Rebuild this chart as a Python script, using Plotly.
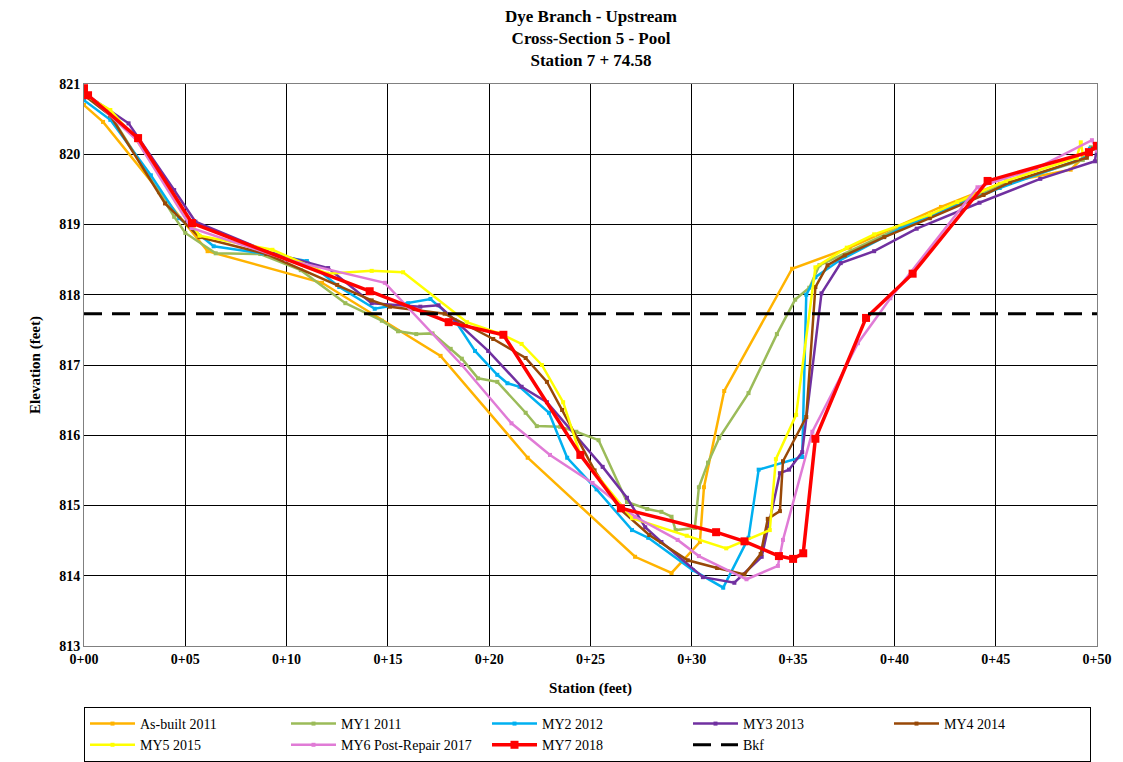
import plotly.graph_objects as go

# ---------------- data ----------------
asbuilt_x = [0, 0.94, 6.1, 11.75, 17.6, 21.9, 27.2, 29.0, 30.4, 30.6, 31.6, 34.95, 37.8, 42.3, 45.2, 48.7, 49.3]
asbuilt_y = [820.70, 820.46, 818.62, 818.17, 817.13, 815.68, 814.27, 814.04, 814.48, 815.26, 816.63, 818.37, 818.67, 819.25, 819.58, 819.78, 819.95]

my1_x = [0, 1.3, 3.7, 4.45, 5.0, 6.5, 8.7, 10.7, 12.9, 14.7, 15.5, 16.4, 17.2, 18.1, 18.65, 19.45, 20.4, 21.8, 22.35, 23.5, 24.3, 25.4, 26.8, 27.8, 28.5, 29.0, 29.2, 30.15, 30.35, 30.8, 31.35, 32.8, 34.2, 35.1, 35.8, 36.3, 40.3, 45.2, 49.3, 49.7]
my1_y = [820.88, 820.56, 819.46, 819.11, 818.88, 818.59, 818.58, 818.35, 817.88, 817.63, 817.48, 817.44, 817.45, 817.23, 817.09, 816.81, 816.76, 816.32, 816.13, 816.12, 816.05, 815.93, 815.05, 814.95, 814.91, 814.84, 814.65, 814.68, 815.26, 815.61, 815.96, 816.60, 817.44, 817.93, 818.10, 818.42, 818.96, 819.55, 819.92, 820.10]

my2_x = [0, 1.3, 3.3, 4.7, 6.4, 8.8, 11.0, 12.6, 14.35, 16.0, 17.1, 18.3, 19.3, 20.4, 20.9, 21.5, 22.95, 23.85, 25.3, 27.05, 27.85, 30.05, 31.55, 32.8, 33.3, 35.45, 35.65, 36.1, 37.3, 40.3, 45.2, 49.4, 49.65]
my2_y = [820.77, 820.49, 819.70, 819.09, 818.69, 818.59, 818.48, 818.11, 817.80, 817.88, 817.94, 817.64, 817.20, 816.86, 816.74, 816.69, 816.32, 815.68, 815.23, 814.65, 814.54, 814.08, 813.83, 814.54, 815.51, 815.69, 818.00, 818.25, 818.49, 818.94, 819.52, 819.95, 820.08]

my3_x = [0, 2.2, 4.45, 5.5, 9.0, 12.05, 14.2, 16.6, 17.5, 19.95, 21.6, 22.85, 25.6, 26.8, 27.7, 28.5, 30.55, 32.1, 33.45, 34.35, 34.8, 35.45, 36.4, 37.35, 39.0, 41.1, 44.2, 47.2, 49.9, 50.0]
my3_y = [820.87, 820.44, 819.49, 819.04, 818.62, 818.38, 817.88, 817.83, 817.85, 817.20, 816.69, 816.47, 815.55, 815.11, 814.69, 814.48, 813.98, 813.90, 814.27, 815.46, 815.51, 815.76, 818.02, 818.45, 818.62, 818.94, 819.31, 819.65, 819.90, 820.13]

my4_x = [0, 1.3, 4.0, 5.7, 9.0, 12.5, 14.2, 15.1, 17.8, 20.2, 21.8, 22.85, 23.6, 25.2, 26.45, 27.9, 29.8, 31.25, 32.6, 33.4, 33.75, 34.35, 34.5, 35.65, 36.1, 36.7, 37.55, 39.5, 41.75, 44.4, 45.7, 49.5, 49.8]
my4_y = [820.84, 820.55, 819.30, 818.82, 818.58, 818.14, 817.92, 817.83, 817.73, 817.37, 817.10, 816.76, 816.36, 815.50, 814.95, 814.58, 814.22, 814.11, 814.02, 814.31, 814.81, 814.92, 815.63, 816.26, 818.11, 818.42, 818.56, 818.82, 819.09, 819.42, 819.60, 819.95, 820.08]

my5_x = [0, 1.3, 2.6, 5.7, 9.3, 12.0, 14.2, 15.75, 18.9, 20.5, 21.6, 22.6, 23.65, 24.5, 27.05, 29.75, 31.7, 33.85, 34.15, 35.15, 36.1, 37.65, 39.0, 41.75, 43.1, 45.5, 49.0, 49.2, 49.3]
my5_y = [820.85, 820.63, 820.20, 818.84, 818.64, 818.30, 818.34, 818.32, 817.61, 817.45, 817.30, 817.00, 816.47, 815.72, 814.82, 814.57, 814.39, 814.65, 815.66, 816.29, 818.39, 818.67, 818.86, 819.14, 819.32, 819.62, 819.95, 820.17, 820.00]

my6_x = [0, 2.6, 5.3, 10.0, 14.85, 18.65, 21.1, 23.0, 25.1, 27.2, 29.3, 30.35, 32.7, 34.25, 34.5, 35.95, 38.2, 39.8, 44.1, 47.0, 49.75, 50.0]
my6_y = [820.90, 820.20, 818.95, 818.50, 818.17, 817.00, 816.17, 815.72, 815.32, 814.84, 814.51, 814.28, 813.95, 814.14, 814.51, 816.05, 817.31, 817.95, 819.53, 819.80, 820.20, 820.05]

my7_x = [0, 0.2, 2.67, 5.33, 14.1, 18.0, 20.7, 24.5, 26.5, 31.2, 32.6, 34.3, 35.0, 35.5, 36.1, 38.6, 40.9, 44.6, 49.6, 50.0]
my7_y = [820.94, 820.84, 820.23, 819.02, 818.05, 817.61, 817.43, 815.72, 814.96, 814.62, 814.49, 814.28, 814.24, 814.32, 815.95, 817.67, 818.30, 819.62, 820.03, 820.12]

bkf_x = [0, 50]
bkf_y = [817.73, 817.73]

x_ticks = [0, 5, 10, 15, 20, 25, 30, 35, 40, 45, 50]
x_tick_text = ["0+00", "0+05", "0+10", "0+15", "0+20", "0+25", "0+30", "0+35", "0+40", "0+45", "0+50"]
y_ticks = [813, 814, 815, 816, 817, 818, 819, 820, 821]

title_lines = ["Dye Branch - Upstream", "Cross-Section 5 - Pool", "Station 7 + 74.58"]

series = [
    ("As-built 2011", asbuilt_x, asbuilt_y, "#FFB300"),
    ("MY1 2011", my1_x, my1_y, "#9BBB59"),
    ("MY2 2012", my2_x, my2_y, "#00B0F0"),
    ("MY3 2013", my3_x, my3_y, "#7030A0"),
    ("MY4 2014", my4_x, my4_y, "#984807"),
    ("MY5 2015", my5_x, my5_y, "#FFFF00"),
    ("MY6 Post-Repair 2017", my6_x, my6_y, "#E07BD6"),
]

FONT = "Liberation Serif"

fig = go.Figure()
for name, xs, ys, col in series:
    fig.add_trace(go.Scatter(
        x=xs, y=ys, name=name, mode="lines+markers",
        line=dict(color=col, width=2.5),
        marker=dict(symbol="square", size=4, color=col),
    ))

fig.add_trace(go.Scatter(
    x=my7_x, y=my7_y, name="MY7 2018", mode="lines+markers",
    line=dict(color="#FF0000", width=3.5),
    marker=dict(symbol="square", size=8, color="#FF0000"),
))
fig.add_trace(go.Scatter(
    x=bkf_x, y=bkf_y, name="Bkf", mode="lines",
    line=dict(color="black", width=3, dash="18px,10px"),
))

fig.add_annotation(
    text="<b>" + "<br>".join(title_lines) + "</b>",
    xref="paper", yref="paper", x=0.5, y=1 + (84 - 39) / 562.0,
    xanchor="center", yanchor="middle", showarrow=False,
    font=dict(family=FONT, size=17, color="black"),
)

fig.update_layout(
    width=1123, height=762,
    margin=dict(l=84, r=26, t=84, b=116, autoexpand=False),
    paper_bgcolor="white", plot_bgcolor="white",
    font=dict(family=FONT, color="black", size=14),
    showlegend=True,
    legend=dict(
        orientation="h", x=0, xanchor="left", xref="paper",
        y=(762 - 707) / 762, yanchor="top", yref="container",
        bordercolor="black", borderwidth=1,
        font=dict(family=FONT, size=14, color="black"),
        entrywidth=141, entrywidthmode="pixels",
        tracegroupgap=0, itemwidth=45,
    ),
)

fig.update_xaxes(
    range=[0, 50], tickvals=x_ticks, ticktext=["<b>%s</b>" % t for t in x_tick_text],
    showgrid=True, gridcolor="black", gridwidth=1,
    showline=True, linecolor="#808080", linewidth=1, mirror=True,
    zeroline=False, ticks="", tickfont=dict(family=FONT, size=14),
    title=dict(text="<b>Station (feet)</b>", font=dict(family=FONT, size=15), standoff=16),
)
fig.update_yaxes(
    range=[813, 821], tickvals=y_ticks, ticktext=["<b>%d</b>" % v for v in y_ticks],
    showgrid=True, gridcolor="black", gridwidth=1,
    showline=True, linecolor="#808080", linewidth=1, mirror=True,
    zeroline=False, ticks="", tickfont=dict(family=FONT, size=14),
    title=dict(text="<b>Elevation (feet)</b>", font=dict(family=FONT, size=15), standoff=14),
)

fig.write_html("out.html")
